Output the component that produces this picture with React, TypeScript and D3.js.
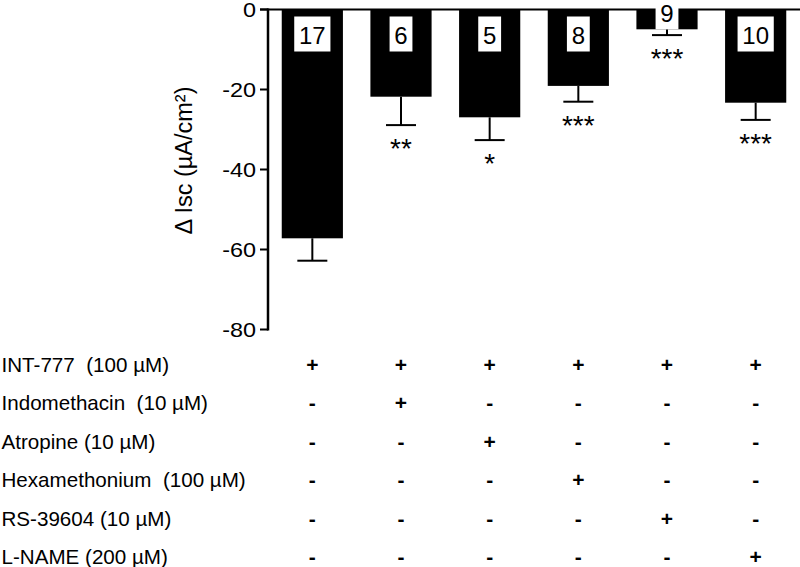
import React from "react";
import * as d3 from "d3";

const groups = ["G1", "G2", "G3", "G4", "G5", "G6"];
const means = [-57.2, -21.8, -26.95, -19.1, -4.95, -23.3];
const sems = [5.6, 7.1, 5.7, 3.95, 1.45, 4.3];
const ns = ["17", "6", "5", "8", "9", "10"];
const stars = ["", "**", "*", "***", "***", "***"];
const yTicks = [0, -20, -40, -60, -80];
const rowLabels = [
  "INT-777  (100 \u00b5M)",
  "Indomethacin  (10 \u00b5M)",
  "Atropine (10 \u00b5M)",
  "Hexamethonium  (100 \u00b5M)",
  "RS-39604 (10 \u00b5M)",
  "L-NAME (200 \u00b5M)",
];
const treatmentMatrix = [
  ["+", "+", "+", "+", "+", "+"],
  ["-", "+", "-", "-", "-", "-"],
  ["-", "-", "+", "-", "-", "-"],
  ["-", "-", "-", "+", "-", "-"],
  ["-", "-", "-", "-", "+", "-"],
  ["-", "-", "-", "-", "-", "+"],
];
const yTitle = "\u0394 Isc (\u00b5A/cm\u00b2)";

const W = 800;
const H = 567;
const FONT = "'Liberation Sans', Arial, Helvetica, sans-serif";

export default function App() {
  const axisX = 268;
  const y = d3.scaleLinear().domain([-80, 0]).range([329.5, 9.5]);
  const x = d3
    .scaleBand<string>()
    .domain(groups)
    .range([axisX, W])
    .paddingInner(0.31)
    .paddingOuter(0.155);
  const bw = x.bandwidth();
  const capW = 30;
  const digitW = 13.35;
  const boxH = 35;
  const rowBase0 = 372;
  const rowStep = 38.4;

  return (
    <svg
      width={W}
      height={H}
      style={{ position: "absolute", left: 0, top: 0, background: "#fff" }}
      fontFamily={FONT}
    >
      <rect x={0} y={0} width={W} height={H} fill="#fff" />
      {/* bars */}
      {groups.map((g, i) => {
        const x0 = x(g)!;
        const y0 = y(0);
        const y1 = y(means[i]);
        return <rect key={"b" + g} x={x0} y={y0} width={bw} height={y1 - y0} fill="#000" />;
      })}
      {/* error bars */}
      {groups.map((g, i) => {
        const cx = x(g)! + bw / 2;
        const yb = y(means[i]);
        const ye = y(means[i] - sems[i]);
        return (
          <g key={"e" + g} stroke="#000" strokeWidth={2}>
            <line x1={cx} x2={cx} y1={yb} y2={ye} />
            <line x1={cx - capW / 2} x2={cx + capW / 2} y1={ye} y2={ye} />
          </g>
        );
      })}
      {/* axes */}
      <line x1={axisX} x2={axisX} y1={y(0) - 1} y2={y(-80) + 1} stroke="#000" strokeWidth={2.5} />
      <line x1={axisX - 8} x2={W} y1={y(0)} y2={y(0)} stroke="#000" strokeWidth={2} />
      {yTicks.map((t) => (
        <g key={"t" + t}>
          <line x1={axisX - 8} x2={axisX} y1={y(t)} y2={y(t)} stroke="#000" strokeWidth={2} />
          <text
            transform={`translate(${axisX - 12}, ${y(t) + 7.5}) scale(1.2, 1)`}
            textAnchor="end"
            fontSize={19.5}
            fill="#000"
          >
            {t}
          </text>
        </g>
      ))}
      {/* y title */}
      <text
        transform={`translate(192, ${160.5}) rotate(-90)`}
        textAnchor="middle"
        fontSize={23.5}
        fill="#000"
      >
        {yTitle}
      </text>
      {/* n labels */}
      {groups.map((g, i) => {
        const cx = x(g)! + bw / 2;
        const boxBottom = Math.min(y(0) + 42, y(means[i]));
        const bwid = ns[i].length * digitW + 9.5;
        return (
          <g key={"n" + g}>
            <rect x={cx - bwid / 2} y={boxBottom - boxH} width={bwid} height={boxH} fill="#fff" />
            <text x={cx} y={boxBottom - 7.7} textAnchor="middle" fontSize={24} fill="#000">
              {ns[i]}
            </text>
          </g>
        );
      })}
      {/* stars */}
      {groups.map((g, i) => {
        const cx = x(g)! + bw / 2;
        const ye = y(means[i] - sems[i]);
        return (
          <text key={"s" + g} x={cx} y={ye + 33} textAnchor="middle" fontSize={28} fill="#000">
            {stars[i]}
          </text>
        );
      })}
      {/* treatment table */}
      {rowLabels.map((lab, r) => (
        <g key={"r" + r}>
          <text
            x={1.5}
            y={rowBase0 + r * rowStep}
            fontSize={20.6}
            fill="#000"
            style={{ whiteSpace: "pre" }}
          >
            {lab}
          </text>
          {treatmentMatrix[r].map((s, c) => (
            <text
              key={"c" + c}
              x={x(groups[c])! + bw / 2}
              y={rowBase0 + r * rowStep}
              textAnchor="middle"
              fontSize={21}
              fontWeight="bold"
              fill="#000"
            >
              {s}
            </text>
          ))}
        </g>
      ))}
    </svg>
  );
}
